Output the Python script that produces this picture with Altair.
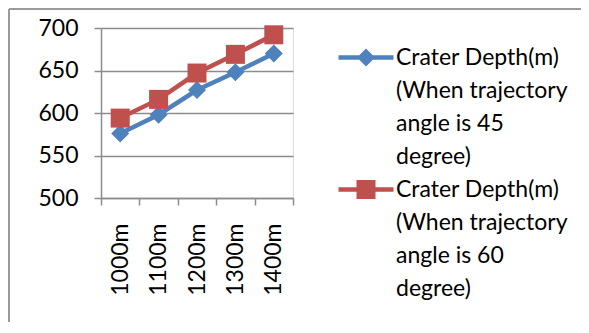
import altair as alt
import pandas as pd

distances = ["1000m", "1100m", "1200m", "1300m", "1400m"]
depth_45 = [576, 598, 627, 648, 670]
depth_60 = [594, 616, 647, 669, 692]
series_keys = ["45", "60"]
series_lines = {
    "45": ["Crater Depth(m)", "(When trajectory", "angle is 45", "degree)"],
    "60": ["Crater Depth(m)", "(When trajectory", "angle is 60", "degree)"],
}
colors = ["#4F81BD", "#C0504D"]
shapes = ["diamond", "square"]
marker_sizes = [324, 361]
y_ticks = [500, 550, 600, 650, 700]

rows = []
for k, vals in zip(series_keys, [depth_45, depth_60]):
    for d, v in zip(distances, vals):
        rows.append({"distance": d, "depth": v, "series": k})
df = pd.DataFrame(rows)

FONT = "Lato"
GRID = "#8c8c8c"

def js_arr(lines):
    return "[" + ",".join("'" + s + "'" for s in lines) + "]"

label_expr = f"datum.value == '45' ? {js_arr(series_lines['45'])} : {js_arr(series_lines['60'])}"

# legend glyphs: a line stub with the marker on it (unit = half of a 20px symbol box)
leg_line = "M-2.75,-0.225H2.75V0.225H-2.75Z"
diamond_p = "M-0.9,0L0,-0.9L0.9,0L0,0.9Z"
square_p = "M-0.95,-0.95H0.95V0.95H-0.95Z"
legend_shapes = [leg_line + " " + diamond_p, leg_line + " " + square_p]

x_enc = alt.X(
    "distance:N", sort=distances, bandPosition=0.5,
    scale=alt.Scale(type="band", paddingInner=0, paddingOuter=0),
    axis=alt.Axis(title=None, tickBand="extent", labelAngle=-90, labelFont=FONT,
                  labelFontSize=23, labelColor="#000", labelPadding=18, tickSize=7,
                  tickColor=GRID, domainColor=GRID, domainWidth=1.5, tickWidth=1.5,
                  grid=False),
)
y_enc = alt.Y(
    "depth:Q", scale=alt.Scale(domain=[500, 700], nice=False, zero=False),
    axis=alt.Axis(title=None, values=y_ticks, labelFont=FONT, labelFontSize=23,
                  labelColor="#000", labelPadding=16, tickSize=7, tickColor=GRID,
                  domainColor=GRID, domainWidth=1.5, tickWidth=1.5, gridColor=GRID,
                  gridWidth=1.5),
)

legend = alt.Legend(
    title=None, orient="none", legendX=253.5, legendY=18, padding=0,
    labelExpr=label_expr, labelFont=FONT, labelFontSize=23, labelColor="#000",
    labelLimit=400, symbolSize=400, labelOffset=18.5, rowPadding=9,
    symbolStrokeWidth=0, symbolOpacity=1,
)

layers = []
for k, col, shp, sz in zip(series_keys, colors, shapes, marker_sizes):
    base = alt.Chart(df).transform_filter(alt.datum.series == k)
    line = base.mark_line(strokeWidth=4.5, color=col).encode(x=x_enc, y=y_enc)
    pts = base.mark_point(filled=True, opacity=1, shape=shp, size=sz, color=col).encode(
        x=x_enc, y=y_enc)
    layers += [line, pts]

# legend-only layer: no rows pass the filter, entries come from the fixed domains
legend_layer = alt.Chart(df).transform_filter("false").mark_point(filled=True, opacity=1).encode(
    x=x_enc, y=y_enc,
    color=alt.Color("series:N", scale=alt.Scale(domain=series_keys, range=colors), legend=legend),
    shape=alt.Shape("series:N", scale=alt.Scale(domain=series_keys, range=legend_shapes),
                    legend=legend),
)

frame_v = alt.Chart(df).mark_rule(color="#9a9a9a", strokeWidth=2).encode(
    x=alt.value(-92), y=alt.value(-19), y2=alt.value(320))
frame_h = alt.Chart(df).mark_rule(color="#9a9a9a", strokeWidth=2).encode(
    x=alt.value(-92), x2=alt.value(500), y=alt.value(-19))

chart = alt.layer(frame_v, frame_h, *layers, legend_layer).properties(
    width=192, height=170,
    padding={"left": 93, "top": 20, "right": 288, "bottom": 124},
    autosize="none",
).configure_view(stroke=None).configure(
    style={"guide-label": {"lineHeight": 33}}
)

chart.save("out.html", embed_options={"renderer": "svg", "actions": False})
